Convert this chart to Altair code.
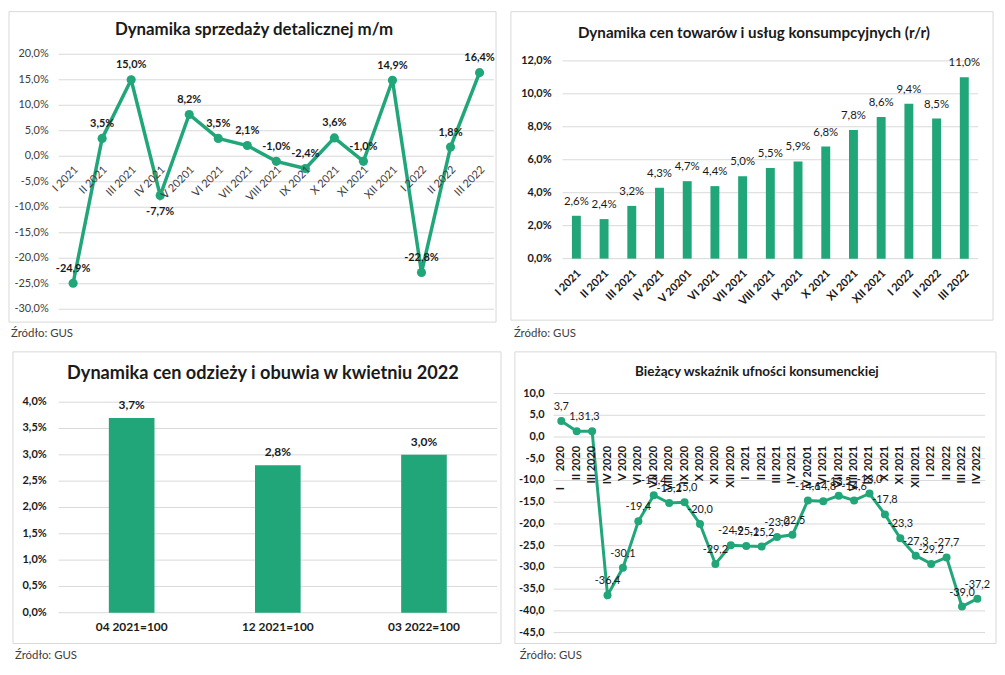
import altair as alt
import pandas as pd

FONT = "Lato"
GREEN = "#21a67a"
GRID = "#d9d9d9"
BOX = "#d9d9d9"
TXT = "#1a1a1a"
AXT = "#404040"
NB = "\u00a0"

# ---------------- data ----------------
tl_months = ["I 2021", "II 2021", "III 2021", "IV 2021", "V 20201", "VI 2021", "VII 2021",
             "VIII 2021", "IX 2021", "X 2021", "XI 2021", "XII 2021", "I 2022", "II 2022", "III 2022"]
tl_values = [-24.9, 3.5, 15.0, -7.7, 8.2, 3.5, 2.1, -1.0, -2.4, 3.6, -1.0, 14.9, -22.8, 1.8, 16.4]
tl_below = ["IV 2021"]
tl_ticks = [-30, -25, -20, -15, -10, -5, 0, 5, 10, 15, 20]

tr_months = ["I 2021", "II 2021", "III 2021", "IV 2021", "V 20201", "VI 2021", "VII 2021",
             "VIII 2021", "IX 2021", "X 2021", "XI 2021", "XII 2021", "I 2022", "II 2022", "III 2022"]
tr_values = [2.6, 2.4, 3.2, 4.3, 4.7, 4.4, 5.0, 5.5, 5.9, 6.8, 7.8, 8.6, 9.4, 8.5, 11.0]
tr_ticks = [0, 2, 4, 6, 8, 10, 12]

bl_bases = ["04 2021=100", "12 2021=100", "03 2022=100"]
bl_values = [3.7, 2.8, 3.0]
bl_ticks = [0, 0.5, 1, 1.5, 2, 2.5, 3, 3.5, 4]

br_months = ["I" + NB * 6 + "2020", "II 2020", "III 2020", "IV 2020", "V 2020", "VI 2020", "VII 2020",
             "VIII 2020", "IX 2020", "X 2020", "XI 2020", "XII 2020",
             "I" + NB * 2 + "2021", "II 2021", "III 2021", "IV 2021", "V 20201", "VI 2021", "VII 2021",
             "VIII 2021", "IX 2021", "X 2021", "XI 2021", "XII 2021",
             "I 2022", "II 2022", "III 2022", "IV 2022"]
br_values = [3.7, 1.3, 1.3, -36.4, -30.1, -19.4, -13.4, -15.2, -15.0, -20.0, -29.2, -24.9,
             -25.1, -25.2, -23.0, -22.5, -14.6, -14.8, -13.5, -14.6, -13.0, -17.8, -23.3, -27.3,
             -29.2, -27.7, -39.0, -37.2]
br_ticks = [-45, -40, -35, -30, -25, -20, -15, -10, -5, 0, 5, 10]

SOURCE = "Źródło: GUS"


def pct(v):
    return f"{v:.1f}".replace(".", ",") + "%"


def num(v):
    return f"{v:.1f}".replace(".", ",")


def decor(title, tsize, tpos, box, spos):
    d = pd.DataFrame({"title": [title], "src": [SOURCE]})
    base = alt.Chart(d)
    rect = base.mark_rect(fillOpacity=0, stroke=BOX, strokeWidth=1).encode(
        x=alt.value(box[0]), x2=alt.value(box[1]), y=alt.value(box[2]), y2=alt.value(box[3]))
    ttl = base.mark_text(fontSize=tsize, fontWeight="bold", color=TXT, align="center",
                         baseline="middle", font=FONT).encode(
        x=alt.value(tpos[0]), y=alt.value(tpos[1]), text="title:N")
    src = base.mark_text(fontSize=11.5, color=AXT, align="left", baseline="middle", font=FONT).encode(
        x=alt.value(spos[0]), y=alt.value(spos[1]), text="src:N")
    return [rect, ttl, src]


def yguides(ticks, fmt, scale, width, pad, bold, color):
    d = pd.DataFrame({"v": ticks, "lab": [fmt(t) for t in ticks]})
    base = alt.Chart(d)
    y = alt.Y("v:Q", scale=scale, axis=None)
    grid = base.mark_rule(color=GRID, strokeWidth=1).encode(
        y=y, x=alt.value(0), x2=alt.value(width))
    labs = base.mark_text(align="right", baseline="middle", fontSize=11, font=FONT,
                          fontWeight="bold" if bold else "normal", color=color).encode(
        y=y, x=alt.value(-pad), text="lab:N")
    return [grid, labs]


# ---------------- top-left: retail sales m/m ----------------
TL_W = 439
tl_df = pd.DataFrame({"month": tl_months, "value": tl_values,
                      "label": [pct(v) for v in tl_values]})
tl_df["pos"] = ["below" if m in tl_below else "above" for m in tl_months]
tl_sc = alt.Scale(domain=[-30, 20], nice=False)
tl_x = alt.X("month:N", sort=tl_months, axis=None, scale=alt.Scale(type="point", padding=0.5))
tl_y = alt.Y("value:Q", scale=tl_sc, axis=None)
tl_base = alt.Chart(tl_df)
tl_line = tl_base.mark_line(color=GREEN, strokeWidth=3.5).encode(x=tl_x, y=tl_y)
tl_pts = tl_base.mark_circle(color=GREEN, size=85, opacity=1).encode(x=tl_x, y=tl_y)
tl_lab_a = tl_base.transform_filter(alt.datum.pos == "above").mark_text(
    dy=-14.5, fontSize=11, fontWeight="bold", color=TXT, font=FONT).encode(
    x=tl_x, y=tl_y, text="label:N")
tl_lab_b = tl_base.transform_filter(alt.datum.pos == "below").mark_text(
    dy=17, fontSize=11, fontWeight="bold", color=TXT, font=FONT).encode(
    x=tl_x, y=tl_y, text="label:N")
tl_xlab = tl_base.mark_text(angle=315, align="right", baseline="middle", dx=-6, dy=11,
                            fontSize=11, color=AXT, font=FONT).encode(
    x=tl_x, y=alt.YDatum(0, type="quantitative", scale=tl_sc, axis=None), text="month:N")
tl = alt.layer(
    *yguides(tl_ticks, pct, tl_sc, TL_W, 10, False, AXT),
    tl_line, tl_pts, tl_lab_a, tl_lab_b, tl_xlab,
    *decor("Dynamika sprzedaży detalicznej m/m", 17, (197, -24), (-50, 441, -43, 270), (-48, 282)),
).properties(width=TL_W, height=257)

# ---------------- top-right: CPI y/y ----------------
TR_W = 419
tr_df = pd.DataFrame({"month": tr_months, "value": tr_values,
                      "label": [pct(v) for v in tr_values]})
tr_sc = alt.Scale(domain=[0, 12.4], nice=False)
tr_x = alt.X("month:N", sort=tr_months, title=None,
             axis=alt.Axis(labelAngle=315, labelAlign="right", labelBaseline="middle",
                           labelFontWeight="bold", labelFontSize=11, labelColor=TXT, labelFont=FONT,
                           domain=False, ticks=False, grid=False, labelPadding=13, labelOffset=3))
tr_y = alt.Y("value:Q", scale=tr_sc, axis=None)
tr_base = alt.Chart(tr_df)
tr_bar = tr_base.mark_bar(color=GREEN, size=9).encode(x=tr_x, y=tr_y)
tr_lab = tr_base.mark_text(dy=-14, fontSize=11.5, color=TXT, font=FONT).encode(
    x=tr_x, y=tr_y, text="label:N")
tr = alt.layer(
    *yguides(tr_ticks, pct, tr_sc, TR_W, 11, True, TXT),
    tr_bar, tr_lab,
    *decor("Dynamika cen towarów i usług konsumpcyjnych (r/r)", 15.3, (193, -21),
           (-52, 434, -43, 268), (-49, 282)),
).properties(width=TR_W, height=206)

# ---------------- bottom-left: clothing & footwear ----------------
BL_W = 442
bl_df = pd.DataFrame({"base": bl_bases, "value": bl_values,
                      "label": [pct(v) for v in bl_values]})
bl_sc = alt.Scale(domain=[0, 4.164], nice=False)
bl_x = alt.X("base:N", sort=bl_bases, title=None,
             axis=alt.Axis(labelAngle=0, labelFontWeight="bold", labelFontSize=12, labelColor=TXT,
                           labelFont=FONT, domain=False, ticks=False, grid=False, labelPadding=9))
bl_y = alt.Y("value:Q", scale=bl_sc, axis=None)
bl_base = alt.Chart(bl_df)
bl_bar = bl_base.mark_bar(color=GREEN, size=46).encode(x=bl_x, y=bl_y)
bl_lab = bl_base.mark_text(dy=-13, fontSize=12, fontWeight="bold", color=TXT, font=FONT).encode(
    x=bl_x, y=bl_y, text="label:N")
bl = alt.layer(
    *yguides(bl_ticks, pct, bl_sc, BL_W, 12, True, TXT),
    bl_bar, bl_lab,
    *decor("Dynamika cen odzieży i obuwia w kwietniu 2022", 18.3, (206, -20),
           (-46, 446, -42, 252), (-44, 265)),
).properties(width=BL_W, height=221)

# ---------------- bottom-right: consumer confidence ----------------
BR_W = 435
br_df = pd.DataFrame({"month": br_months, "value": br_values,
                      "label": [num(v) for v in br_values]})
br_sc = alt.Scale(domain=[-45, 10], nice=False)
br_x = alt.X("month:N", sort=br_months, axis=None, scale=alt.Scale(type="point", padding=0.5))
br_y = alt.Y("value:Q", scale=br_sc, axis=None)
br_base = alt.Chart(br_df)
br_line = br_base.mark_line(color=GREEN, strokeWidth=3).encode(x=br_x, y=br_y)
br_pts = br_base.mark_circle(color=GREEN, size=65, opacity=1).encode(x=br_x, y=br_y)
br_lab = br_base.mark_text(dy=-14, fontSize=11, color=TXT, font=FONT).encode(
    x=br_x, y=br_y, text="label:N")
br_xlab = br_base.mark_text(angle=270, align="right", baseline="middle", dx=-9,
                            fontSize=11, fontWeight="bold", color=TXT, font=FONT).encode(
    x=br_x, y=alt.YDatum(0, type="quantitative", scale=br_sc, axis=None), text="month:N")
br = alt.layer(
    *yguides(br_ticks, num, br_sc, BR_W, 9, True, TXT),
    br_line, br_pts, br_lab, br_xlab,
    *decor("Bieżący wskaźnik ufności konsumenckiej", 13.6, (205, -22),
           (-39, 446, -42, 252), (-34, 265)),
).properties(width=BR_W, height=241)

row1 = alt.hconcat(tl, tr, spacing=13)
row2 = alt.hconcat(bl, br, spacing=12)
chart = alt.vconcat(row1, row2, spacing=11).properties(
    padding=0, background="white"
).configure(font=FONT).configure_view(stroke=None)

chart.save("out.html", embed_options={"renderer": "svg", "actions": False})
